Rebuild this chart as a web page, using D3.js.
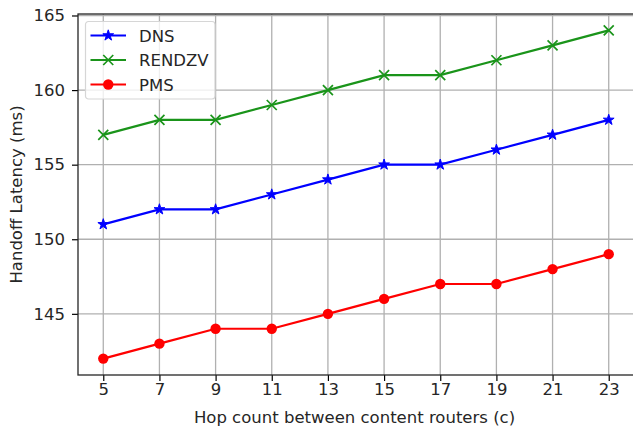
<!DOCTYPE html>
<html>
<head>
<meta charset="utf-8">
<script src="https://cdn.jsdelivr.net/npm/d3@7"></script>
<style>
  html, body { margin: 0; padding: 0; background: #fff; }
  svg { display: block; }
  text { font-family: "DejaVu Sans", sans-serif; fill: #262626; }
</style>
</head>
<body>
<svg id="chart" width="633" height="430"></svg>
<script>
// Hop counts on the x axis
const hops = [5, 7, 9, 11, 13, 15, 17, 19, 21, 23];
// Handoff latency (ms) for each scheme
const dns    = [151, 152, 152, 153, 154, 155, 155, 156, 157, 158];
const rendzv = [157, 158, 158, 159, 160, 161, 161, 162, 163, 164];
const pms    = [142, 143, 144, 144, 145, 146, 147, 147, 148, 149];
const yTicks = [145, 150, 155, 160, 165];

const series = [
  { name: "DNS",    values: dns,    color: "#0000ff", marker: "star" },
  { name: "RENDZV", values: rendzv, color: "#1a941a", marker: "x" },
  { name: "PMS",    values: pms,    color: "#ff0000", marker: "circle" }
];

const FONT = 16.5;
const svg = d3.select("#chart");
const plotLeft = 78, plotRight = 634, plotTop = 14, plotBottom = 375;

const x = d3.scaleLinear().domain([4.1, 23.9]).range([plotLeft, plotRight]);
const y = d3.scaleLinear().domain([140.9, 165.1]).range([plotBottom, plotTop]);

// grid
const grid = svg.append("g");
grid.selectAll(".vg").data(hops).enter().append("line")
  .attr("x1", d => x(d)).attr("x2", d => x(d))
  .attr("y1", plotTop).attr("y2", plotBottom)
  .attr("stroke", "#b0b0b0").attr("stroke-width", 1.3);
grid.selectAll(".hg").data(yTicks).enter().append("line")
  .attr("x1", plotLeft).attr("x2", plotRight)
  .attr("y1", d => y(d)).attr("y2", d => y(d))
  .attr("stroke", "#b0b0b0").attr("stroke-width", 1.3);

// axes
const xAxis = d3.axisBottom(x).tickValues(hops).tickSize(6).tickPadding(2).tickFormat(d3.format("d"));
const yAxis = d3.axisLeft(y).tickValues(yTicks).tickSize(6).tickPadding(7).tickFormat(d3.format("d"));
const gx = svg.append("g").attr("transform", `translate(0,${plotBottom})`).call(xAxis);
const gy = svg.append("g").attr("transform", `translate(${plotLeft},0)`).call(yAxis);
[gx, gy].forEach(g => {
  g.select(".domain").remove();
  g.selectAll(".tick line").attr("stroke", "#000").attr("stroke-width", 1.2);
  g.selectAll(".tick text").attr("font-size", FONT).attr("font-family", "DejaVu Sans").attr("fill", "#262626");
});

// frame
svg.append("rect").attr("x", plotLeft).attr("y", plotTop)
  .attr("width", plotRight - plotLeft).attr("height", plotBottom - plotTop)
  .attr("fill", "none").attr("stroke", "#262626").attr("stroke-width", 1.3);

// axis titles
svg.append("text").attr("x", (plotLeft + 633) / 2 - 1).attr("y", 423)
  .attr("text-anchor", "middle").attr("font-size", FONT)
  .text("Hop count between content routers (c)");
svg.append("text")
  .attr("transform", `translate(22,${(plotTop + plotBottom) / 2}) rotate(-90)`)
  .attr("text-anchor", "middle").attr("font-size", FONT)
  .text("Handoff Latency (ms)");

// marker drawing
function drawMarker(g, type, color, cx, cy) {
  if (type === "circle") {
    g.append("circle").attr("cx", cx).attr("cy", cy).attr("r", 5.2).attr("fill", color);
  } else if (type === "star") {
    const star = d3.symbol().type(d3.symbolStar).size(36);
    g.append("path").attr("d", star()).attr("transform", `translate(${cx},${cy})`)
      .attr("fill", color).attr("stroke", color).attr("stroke-width", 1);
  } else if (type === "x") {
    const s = 5;
    g.append("path")
      .attr("d", `M${cx - s},${cy - s}L${cx + s},${cy + s}M${cx - s},${cy + s}L${cx + s},${cy - s}`)
      .attr("stroke", color).attr("stroke-width", 1.7).attr("fill", "none");
  }
}

const line = d3.line().x(d => x(d[0])).y(d => y(d[1]));
series.forEach(s => {
  const pts = hops.map((h, i) => [h, s.values[i]]);
  const g = svg.append("g");
  g.append("path").datum(pts).attr("d", line)
    .attr("fill", "none").attr("stroke", s.color).attr("stroke-width", 2.2);
  pts.forEach(p => drawMarker(g, s.marker, s.color, x(p[0]), y(p[1])));
});

// legend
const lg = svg.append("g").attr("transform", "translate(85.5,21.5)");
lg.append("rect").attr("width", 129.5).attr("height", 77.5).attr("rx", 3)
  .attr("fill", "rgba(255,255,255,0.8)").attr("stroke", "#d6d6d6").attr("stroke-width", 1.2);
series.forEach((s, i) => {
  const ly = 14 + i * 24.5;
  lg.append("line").attr("x1", 5).attr("x2", 40.5).attr("y1", ly).attr("y2", ly)
    .attr("stroke", s.color).attr("stroke-width", 2.2);
  drawMarker(lg, s.marker, s.color, 22.75, ly);
  lg.append("text").attr("x", 53.5).attr("y", ly + 6).attr("font-size", FONT).text(s.name);
});
</script>
</body>
</html>
